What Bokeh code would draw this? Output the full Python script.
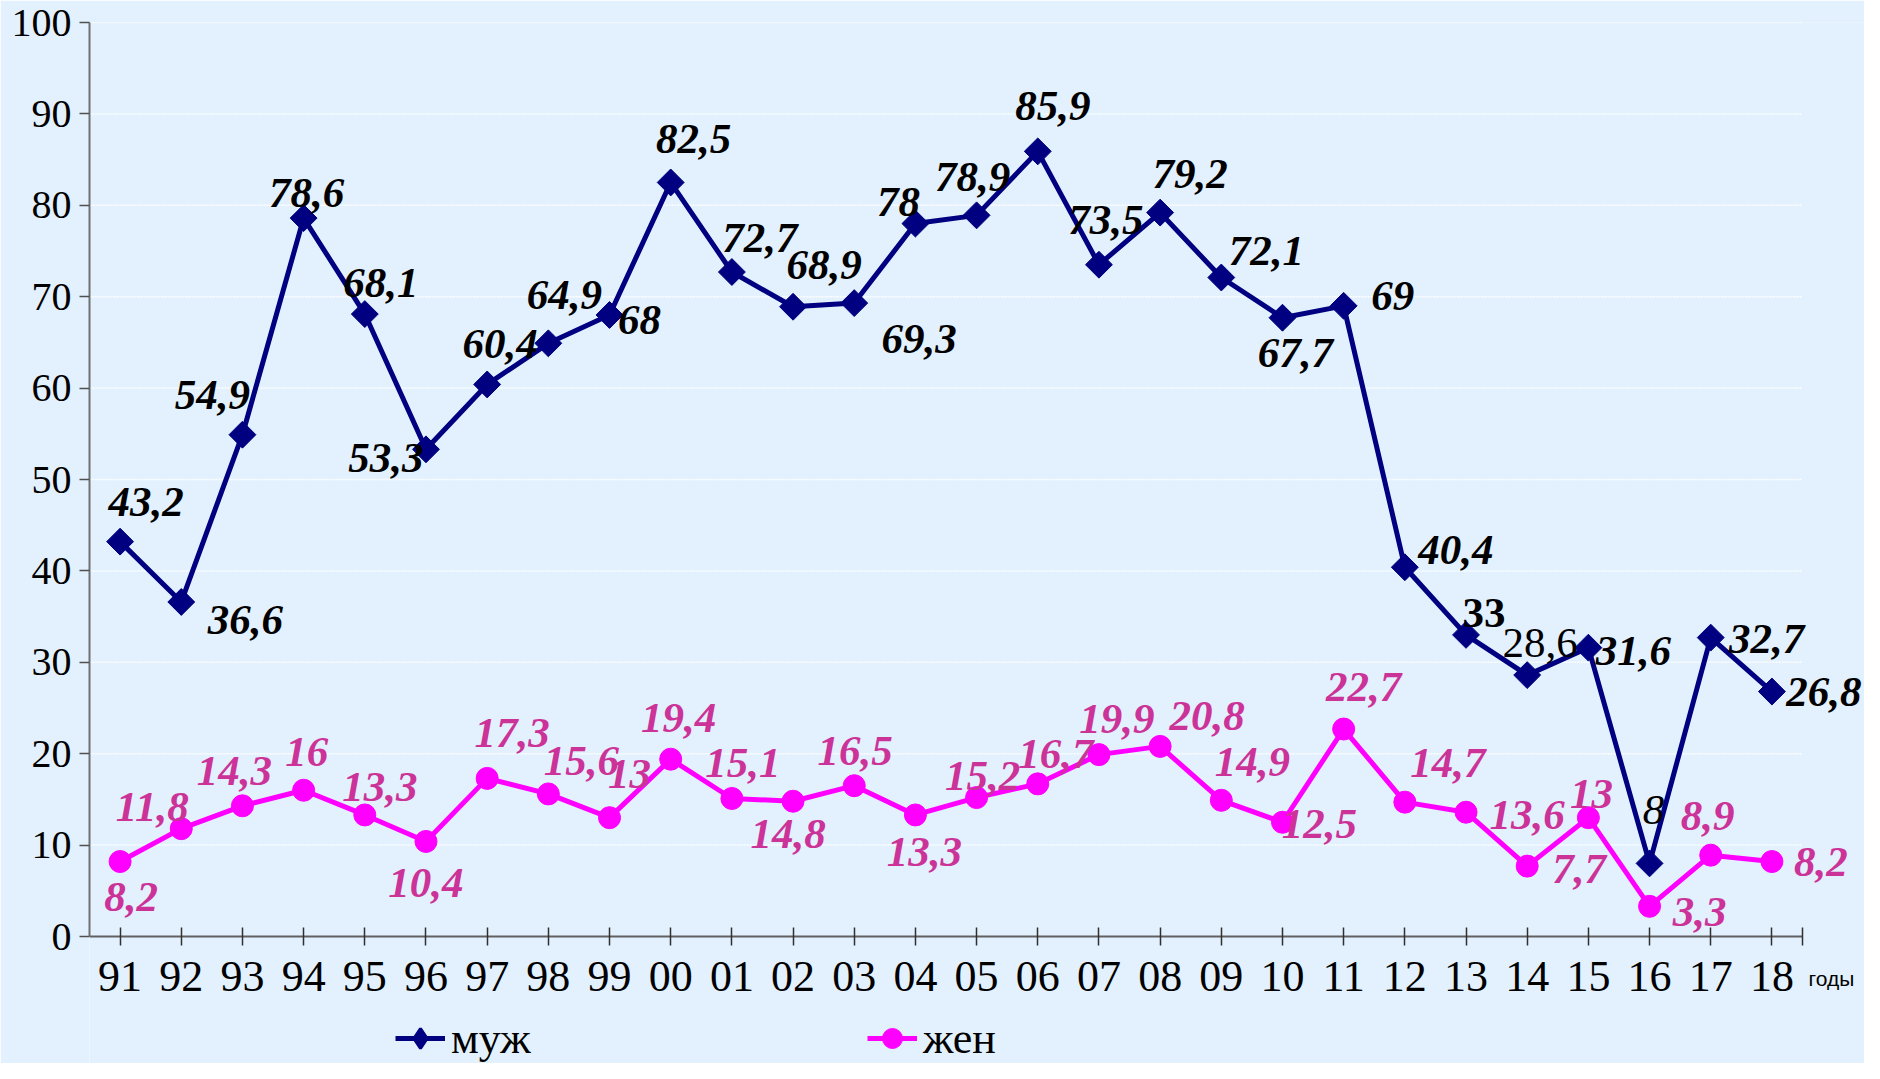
import math
from bokeh.plotting import figure
from bokeh.models import (ColumnDataSource, LabelSet, Legend, LegendItem, Label, Range1d,
                          FixedTicker, LinearAxis, CustomJSTickFormatter)
from bokeh.core.properties import value, field
from bokeh.embed import file_html
from bokeh.resources import INLINE

# ---- data ----
years = ["91", "92", "93", "94", "95", "96", "97", "98", "99", "00", "01", "02", "03", "04",
         "05", "06", "07", "08", "09", "10", "11", "12", "13", "14", "15", "16", "17", "18"]
male = [43.2, 36.6, 54.9, 78.6, 68.1, 53.3, 60.4, 64.9, 68, 82.5, 72.7, 68.9, 69.3, 78,
        78.9, 85.9, 73.5, 79.2, 72.1, 67.7, 69, 40.4, 33, 28.6, 31.6, 8, 32.7, 26.8]
female = [8.2, 11.8, 14.3, 16, 13.3, 10.4, 17.3, 15.6, 13, 19.4, 15.1, 14.8, 16.5, 13.3,
          15.2, 16.7, 19.9, 20.8, 14.9, 12.5, 22.7, 14.7, 13.6, 7.7, 13, 3.3, 8.9, 8.2]
series_names = ["муж", "жен"]
y_ticks = [0, 10, 20, 30, 40, 50, 60, 70, 80, 90, 100]
x_unit_label = "годы"

# ---- label placement (screen px: dx right, dy down) ----
male_dx = [26, 64, -30, 3, 16, -40, 13, 16, 30, 23, 28, 31, 65, -17, -4, 15, 7, 30, 45, 13, 49, 51, 18, 13, 45, 4, 56, 52]
male_dy = [-40, 18, -40, -25, -31, 9, -40, -48, 5, -43, -34, -42, 36, -22, -38, -45, -45, -39, -27, 35, -10, -17, -22, -32, 3, -53, 1, 0]
male_style = ["bold italic"] * 28
male_style[22] = "bold"
male_style[23] = "normal"
male_style[25] = "italic"
female_dx = [11, -29, -8, 3, 15, 0, 25, 33, 20, 8, 11, -5, 1, 9, 6, 18, 18, 47, 31, 37, 20, 43, 61, 52, 3, 50, -3, 49]
female_dy = [35, -22, -35, -38, -28, 42, -45, -33, -44, -41, -35, 33, -35, 37, -22, -30, -36, -30, -38, 2, -42, -39, 3, 3, -24, 6, -39, 0]

def fmt(v):
    return f"{v:g}".replace(".", ",")

BG = "#E3F1FE"
NAVY = "#000080"
MAGENTA = "#FF00FF"
PINK_TXT = "#CC3399"
SERIF = "Liberation Serif"

W, H = 1864, 1063
LEFT, TOP = 89, 22
PLOT_W, PLOT_H = 1713, 914          # pixels spanned by the 28 years and by 0..100
N = len(years)
x_end = N * (W - LEFT) / PLOT_W
y_start = 100 - (H - TOP) * 100 / PLOT_H

xs = [i + 0.5 for i in range(N)]

src_m = ColumnDataSource(dict(x=xs, y=male, lbl=[fmt(v) for v in male],
                              dx=male_dx, dy=[-d for d in male_dy], st=male_style))
src_f = ColumnDataSource(dict(x=xs, y=female, lbl=[fmt(v) for v in female],
                              dx=female_dx, dy=[-d for d in female_dy]))

p = figure(width=W, height=H, x_range=Range1d(0, x_end), y_range=Range1d(y_start, 100),
           output_backend="svg", toolbar_location=None, x_axis_location=None)
p.min_border = 0
p.min_border_left = LEFT
p.min_border_right = 0
p.min_border_top = TOP
p.min_border_bottom = 0
p.background_fill_color = BG
p.border_fill_color = BG
p.outline_line_color = None
p.xgrid.grid_line_color = None
p.ygrid.grid_line_color = None

# horizontal grid lines limited to the data area
grid_y = [t for t in y_ticks if t > 0]
p.segment(x0=[0] * len(grid_y), x1=[N] * len(grid_y), y0=grid_y, y1=grid_y,
          line_color="white", line_alpha=0.9, line_width=1.5, line_dash="2 1")

p.yaxis.ticker = FixedTicker(ticks=y_ticks)
p.yaxis.bounds = (0, 100)
p.yaxis.major_label_text_font = SERIF
p.yaxis.major_label_text_font_size = "40px"
p.yaxis.major_label_text_color = "black"
p.yaxis.major_tick_in = 0
p.yaxis.major_tick_out = 10
p.yaxis.minor_tick_line_color = None
p.yaxis.major_label_standoff = 8
p.yaxis.axis_line_color = "#707070"
p.yaxis.axis_line_width = 2
p.yaxis.major_tick_line_color = "#505050"
p.yaxis.major_tick_line_width = 1.5

xaxis = LinearAxis(fixed_location=0, bounds=(0, N),
                   ticker=FixedTicker(ticks=xs + [N]),
                   formatter=CustomJSTickFormatter(args=dict(years=years),
                       code="const i = Math.floor(tick); return (i >= 0 && i < years.length) ? years[i] : '';"))
xaxis.major_label_text_font = SERIF
xaxis.major_label_text_font_size = "44px"
xaxis.major_label_text_color = "black"
xaxis.major_tick_in = 9
xaxis.major_tick_out = 9
xaxis.minor_tick_line_color = None
xaxis.major_label_standoff = 16
xaxis.axis_line_color = "#606060"
xaxis.axis_line_width = 2
xaxis.major_tick_line_color = "#303030"
xaxis.major_tick_line_width = 1.5
p.add_layout(xaxis, "below")

lm = p.line("x", "y", source=src_m, line_color=NAVY, line_width=5)
# diamond used for the legend symbol; sits hidden under the rotated squares
leg_diamond = p.scatter("x", "y", source=src_m, marker="diamond", size=20,
                        fill_color=NAVY, line_color=NAVY, line_width=3)
sm = p.scatter("x", "y", source=src_m, marker="square", angle=math.pi / 4, size=19,
               fill_color=NAVY, line_color=NAVY)
lf = p.line("x", "y", source=src_f, line_color=MAGENTA, line_width=5)
sf = p.scatter("x", "y", source=src_f, marker="circle", size=22,
               fill_color=MAGENTA, line_color=MAGENTA)

p.add_layout(LabelSet(x="x", y="y", text="lbl", source=src_m, x_offset="dx", y_offset="dy",
                      text_font=value(SERIF), text_font_style=field("st"), text_font_size="43px",
                      text_color="black", text_align="center", text_baseline="middle"))
p.add_layout(LabelSet(x="x", y="y", text="lbl", source=src_f, x_offset="dx", y_offset="dy",
                      text_font=value(SERIF), text_font_style="bold italic", text_font_size="43px",
                      text_color=PINK_TXT, text_align="center", text_baseline="middle"))

p.add_layout(Label(x=N, y=0, x_offset=6, y_offset=-42, text=x_unit_label,
                   text_font="Liberation Sans", text_font_size="21px", text_color="black",
                   text_baseline="middle", text_align="left"))

for name, rends, loc in [(series_names[0], [lm, leg_diamond], (306, -2)),
                         (series_names[1], [lf, sf], (778, -2))]:
    lg = Legend(items=[LegendItem(label=name, renderers=rends)], location=loc,
                padding=0, margin=0, spacing=0, glyph_width=50, glyph_height=54,
                label_standoff=6, label_text_font=SERIF, label_text_font_size="44px",
                label_text_color="black", background_fill_alpha=0, border_line_alpha=0)
    p.add_layout(lg, "center")

open("out.html", "w").write(file_html(p, INLINE))
